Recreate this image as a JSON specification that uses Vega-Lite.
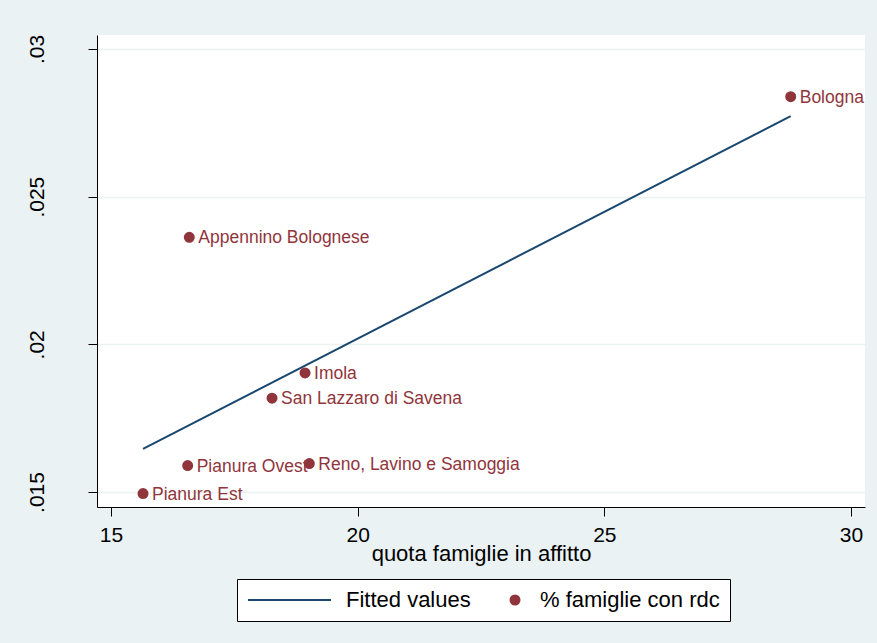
{
  "$schema": "https://vega.github.io/schema/vega-lite/v6.json",
  "width": 768,
  "height": 472,
  "autosize": {"type": "none"},
  "padding": {"left": 97, "top": 35, "right": 12, "bottom": 136},
  "background": "#EAF2F3",
  "config": {
    "font": "Liberation Sans",
    "view": {"fill": "white", "stroke": null},
    "axis": {
      "domainColor": "black",
      "tickColor": "black",
      "labelColor": "black",
      "titleColor": "black",
      "labelFont": "Liberation Sans",
      "titleFont": "Liberation Sans",
      "titleFontWeight": "normal",
      "domainWidth": 1,
      "tickWidth": 1
    }
  },
  "datasets": {
    "punti": [
      {"nome": "Bologna", "quota": 28.778, "rdc": 0.028385, "serie": "% famiglie con rdc"},
      {"nome": "Appennino Bolognese", "quota": 16.587, "rdc": 0.023625, "serie": "% famiglie con rdc"},
      {"nome": "Imola", "quota": 18.933, "rdc": 0.019032, "serie": "% famiglie con rdc"},
      {"nome": "San Lazzaro di Savena", "quota": 18.264, "rdc": 0.018175, "serie": "% famiglie con rdc"},
      {"nome": "Pianura Ovest", "quota": 16.554, "rdc": 0.015894, "serie": "% famiglie con rdc"},
      {"nome": "Reno, Lavino e Samoggia", "quota": 19.02, "rdc": 0.015961, "serie": "% famiglie con rdc"},
      {"nome": "Pianura Est", "quota": 15.649, "rdc": 0.014946, "serie": "% famiglie con rdc"}
    ],
    "fit": [
      {"quota": 15.649, "rdc": 0.01646},
      {"quota": 28.778, "rdc": 0.02773}
    ]
  },
  "layer": [
    {
      "data": {"name": "fit"},
      "mark": {"type": "line", "strokeWidth": 2, "color": "#1A476F"},
      "encoding": {
        "x": {
          "field": "quota", "type": "quantitative",
          "scale": {"domain": [14.716, 30.284], "nice": false, "zero": false},
          "axis": {
            "values": [15, 20, 25, 30],
            "title": "quota famiglie in affitto",
            "grid": false,
            "tickSize": 9,
            "labelPadding": 8,
            "labelFontSize": 21,
            "labelFlush": false,
            "titleFontSize": 22,
            "titleBaseline": "alphabetic",
            "titleY": 53.5
          }
        },
        "y": {
          "field": "rdc", "type": "quantitative",
          "scale": {"domain": [0.014492, 0.030474], "nice": false, "zero": false},
          "axis": {
            "values": [0.015, 0.02, 0.025, 0.03],
            "labelExpr": "substring(toString(datum.value), 1)",
            "title": null,
            "grid": true,
            "gridColor": "#EAF2F3",
            "gridWidth": 1.5,
            "tickSize": 9,
            "labelAngle": -90,
            "labelAlign": "center",
            "labelBaseline": "alphabetic",
            "labelPadding": 45,
            "labelFontSize": 21,
            "labelFlush": false
          }
        }
      }
    },
    {
      "data": {"name": "punti"},
      "mark": {"type": "text", "align": "left", "baseline": "middle", "dx": 9, "dy": 1, "fontSize": 17.5, "color": "#90353B", "font": "Liberation Sans"},
      "encoding": {
        "x": {"field": "quota", "type": "quantitative", "scale": {"domain": [14.716, 30.284], "nice": false, "zero": false}},
        "y": {"field": "rdc", "type": "quantitative", "scale": {"domain": [0.014492, 0.030474], "nice": false, "zero": false}},
        "text": {"field": "nome", "type": "nominal"}
      }
    },
    {
      "data": {"name": "punti"},
      "mark": {"type": "point", "filled": true, "opacity": 1, "strokeWidth": 2},
      "encoding": {
        "x": {"field": "quota", "type": "quantitative", "scale": {"domain": [14.716, 30.284], "nice": false, "zero": false}},
        "y": {"field": "rdc", "type": "quantitative", "scale": {"domain": [0.014492, 0.030474], "nice": false, "zero": false}},
        "color": {
          "field": "serie", "type": "nominal",
          "scale": {"domain": ["Fitted values", "% famiglie con rdc"], "range": ["#1A476F", "#90353B"]},
          "legend": {
            "title": null,
            "orient": "none",
            "legendX": 140,
            "legendY": 544,
            "direction": "horizontal",
            "columns": 0,
            "fillColor": "white",
            "strokeColor": "black",
            "padding": 10,
            "columnPadding": 33,
            "labelOffset": 14,
            "labelFontSize": 22,
            "labelFont": "Liberation Sans",
            "labelColor": "black",
            "labelLimit": 400,
            "clipHeight": 22,
            "symbolOffset": 0,
            "symbolStrokeWidth": 2,
            "symbolOpacity": 1
          }
        },
        "stroke": {
          "field": "serie", "type": "nominal",
          "scale": {"domain": ["Fitted values", "% famiglie con rdc"], "range": ["#1A476F", "#90353B"]}
        },
        "shape": {
          "field": "serie", "type": "nominal",
          "scale": {"domain": ["Fitted values", "% famiglie con rdc"], "range": ["stroke", "circle"]}
        },
        "size": {
          "field": "serie", "type": "nominal",
          "scale": {"type": "point", "domain": ["Fitted values", "% famiglie con rdc"], "range": [6889, 81], "padding": 0}
        }
      }
    }
  ]
}
